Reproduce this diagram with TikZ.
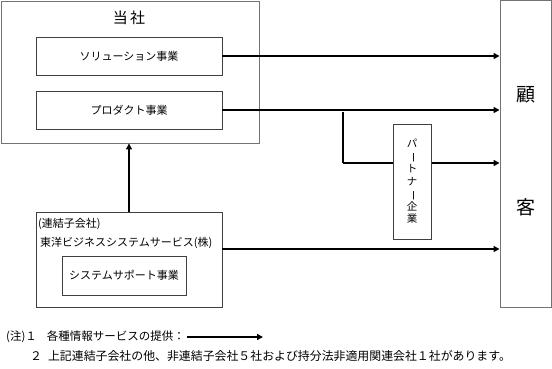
\documentclass[tikz,border=0pt]{standalone}
\usepackage{fontspec}
\setmainfont{Noto Sans CJK JP}
\usetikzlibrary{arrows.meta, positioning}

\begin{document}
\begin{tikzpicture}[
    x=1pt, y=-1pt,
    box/.style={rectangle, draw=black!75, line width=0.7pt, inner sep=0pt, align=center, font=\fontsize{11}{13}\selectfont},
    frame/.style={rectangle, draw=black!55, line width=0.9pt, inner sep=0pt},
    txt/.style={inner sep=0pt, font=\fontsize{11}{13}\selectfont},
    arrow/.style={-{Triangle[length=6pt,width=6pt]}, line width=1.6pt}
]
\useasboundingbox (0,0) rectangle (552,368);

% company and customers
\node[frame, minimum width=258pt, minimum height=142pt] (tosha) at (130,72) {};
\node[txt, font=\fontsize{15}{17}\selectfont] (toshalabel) at (129,18) {当\,社};
\node[box, minimum width=186pt, minimum height=38pt] (solution) at (129,56) {ソリューション事業};
\node[box, minimum width=186pt, minimum height=38pt] (product) at (129,110) {プロダクト事業};
\node[frame, minimum width=51pt, minimum height=307pt] (kokyaku) at (525.5,153.5) {};
\node[txt, font=\fontsize{19}{21}\selectfont] (ko) at (526,95) {顧};
\node[txt, font=\fontsize{19}{21}\selectfont] (kyaku) at (526,207) {客};

% subsidiary
\node[box, minimum width=186pt, minimum height=95pt] (sub) at (129,259.5) {};
\node[txt, anchor=west] (subkind) at (38,224) {(連結子会社)};
\node[txt, anchor=west] (subname) at (40,243) {東洋ビジネスシステムサービス(株)};
\node[box, minimum width=124pt, minimum height=39pt] (support) at (124,275.5) {システムサポート事業};

% flows
\coordinate (branch) at (343,112);
\coordinate (partnerline) at (343,163);
\draw[arrow] (solution.east) -- (solution.east -| kokyaku.west);
\draw[arrow] (product.east) -- (product.east -| kokyaku.west);
\draw[line width=1.6pt] (branch) -- (partnerline);
\draw[arrow] (partnerline) -- (partnerline -| kokyaku.west);
\draw[arrow] ([yshift=10.5pt]sub.east) -- ([yshift=10.5pt]sub.east -| kokyaku.west);
\draw[arrow] (sub.north) -- (sub.north |- tosha.south);

\node[box, fill=white, minimum width=38pt, minimum height=115pt, font=\fontsize{10.5}{12.5}\selectfont] (partner) at (412,181.5)
    {パ\\\rotatebox[origin=c]{-90}{ー}\\ト\\ナ\\\rotatebox[origin=c]{-90}{ー}\\企\\業};

% notes
\node[txt, anchor=west, font=\fontsize{11.5}{13}\selectfont] (note1) at (6,337) {(注)１\hspace{10pt}各種情報サービスの提供：};
\coordinate (legendend) at (263,337);
\draw[arrow] ([xshift=2pt]note1.east) -- (legendend);
\node[txt, anchor=west, font=\fontsize{11.9}{13}\selectfont] (note2) at (30,356) {２\hspace{6pt}上記連結子会社の他、非連結子会社５社および持分法非適用関連会社１社があります。};
\end{tikzpicture}
\end{document}
